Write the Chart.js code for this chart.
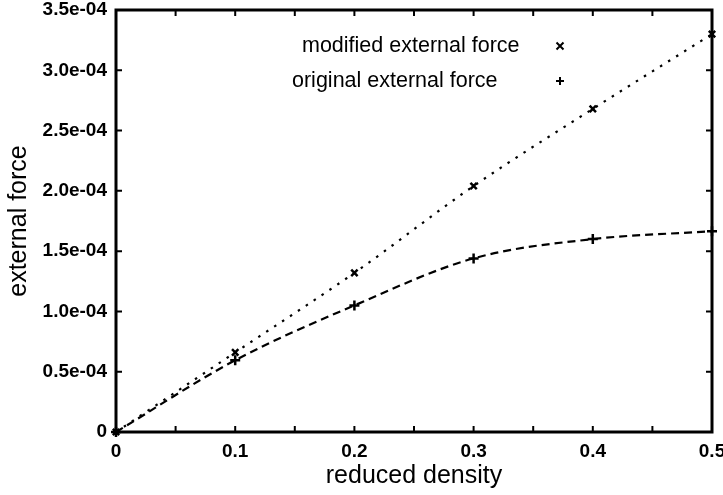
<!DOCTYPE html>
<html>
<head>
<meta charset="utf-8">
<script src="https://cdn.jsdelivr.net/npm/chart.js@4/dist/chart.umd.min.js"></script>
<style>
  html, body { margin: 0; padding: 0; background: #ffffff; }
  #wrap { width: 723px; height: 495px; }
</style>
</head>
<body>
<div id="wrap"><canvas id="c" width="723" height="495"></canvas></div>
<script>
// Reduced density values at which the force was evaluated
const densities = [0, 0.1, 0.2, 0.3, 0.4, 0.5];
// External force for each model
const modifiedForce = [0, 6.6e-5, 1.32e-4, 2.04e-4, 2.68e-4, 3.30e-4];
const originalForce = [0, 5.95e-5, 1.05e-4, 1.44e-4, 1.60e-4, 1.665e-4];
// Axis tick values and their labels
const xTickValues = [0, 0.1, 0.2, 0.3, 0.4, 0.5];
const xTickLabels = ['0', '0.1', '0.2', '0.3', '0.4', '0.5'];
const xMinorTicks = [0.05, 0.15, 0.25, 0.35, 0.45];
const yTickValues = [0, 0.5e-4, 1.0e-4, 1.5e-4, 2.0e-4, 2.5e-4, 3.0e-4, 3.5e-4];
const yTickLabels = ['0', '0.5e-04', '1.0e-04', '1.5e-04', '2.0e-04', '2.5e-04', '3.0e-04', '3.5e-04'];

const FONT = '"Liberation Sans", Arial, Helvetica, sans-serif';

function toPoints(xs, ys) {
  return xs.map((x, i) => ({ x: x, y: ys[i] }));
}

// Frame with inward ticks on all four sides, plus the key
const framePlugin = {
  id: 'frame',
  afterDraw(chart) {
    const ctx = chart.ctx;
    const a = chart.chartArea;
    const xs = chart.scales.x, ys = chart.scales.y;
    ctx.save();
    ctx.strokeStyle = '#000';
    ctx.lineWidth = 2;
    ctx.setLineDash([]);
    const tick = 6;
    ctx.beginPath();
    xTickValues.concat(xMinorTicks).forEach(v => {
      const px = xs.getPixelForValue(v);
      ctx.moveTo(px, a.bottom); ctx.lineTo(px, a.bottom - tick);
      ctx.moveTo(px, a.top); ctx.lineTo(px, a.top + tick);
    });
    yTickValues.forEach(v => {
      const py = ys.getPixelForValue(v);
      ctx.moveTo(a.left, py); ctx.lineTo(a.left + tick, py);
      ctx.moveTo(a.right, py); ctx.lineTo(a.right - tick, py);
    });
    ctx.stroke();
    ctx.lineWidth = 3;
    ctx.strokeRect(a.left, a.top, a.right - a.left, a.bottom - a.top);

    // key
    ctx.fillStyle = '#000';
    ctx.font = '21.5px ' + FONT;
    ctx.textBaseline = 'middle';
    ctx.textAlign = 'left';
    const entries = [
      { ds: chart.data.datasets[0], tx: 302, y: 46 },
      { ds: chart.data.datasets[1], tx: 292, y: 81 }
    ];
    entries.forEach(e => {
      ctx.fillText(e.ds.label, e.tx, e.y);
      const mx = 560, r = 3.5;
      ctx.lineWidth = 2;
      ctx.beginPath();
      if (e.ds.pointStyle === 'crossRot') {
        ctx.moveTo(mx - r, e.y - r); ctx.lineTo(mx + r, e.y + r);
        ctx.moveTo(mx - r, e.y + r); ctx.lineTo(mx + r, e.y - r);
      } else {
        ctx.moveTo(mx - r - 0.5, e.y); ctx.lineTo(mx + r + 0.5, e.y);
        ctx.moveTo(mx, e.y - r - 0.5); ctx.lineTo(mx, e.y + r + 0.5);
      }
      ctx.stroke();
    });
    ctx.restore();
  }
};

new Chart(document.getElementById('c'), {
  type: 'line',
  data: {
    datasets: [
      {
        label: 'modified external force',
        data: toPoints(densities, modifiedForce),
        borderColor: '#000',
        backgroundColor: '#000',
        borderWidth: 2.2,
        borderDash: [2.5, 7],
        cubicInterpolationMode: 'monotone',
        pointStyle: 'crossRot',
        pointRadius: 4.5,
        pointBorderWidth: 2.5,
        pointBorderColor: '#000',
        fill: false,
        clip: false
      },
      {
        label: 'original external force',
        data: toPoints(densities, originalForce),
        borderColor: '#000',
        backgroundColor: '#000',
        borderWidth: 2.2,
        borderDash: [8, 5],
        cubicInterpolationMode: 'monotone',
        pointStyle: 'cross',
        pointRadius: 5,
        pointBorderWidth: 2.5,
        pointBorderColor: '#000',
        fill: false,
        clip: false
      }
    ]
  },
  options: {
    responsive: false,
    animation: false,
    devicePixelRatio: 1,
    layout: { padding: { top: 10, right: 11, left: 0, bottom: 0 } },
    plugins: {
      legend: { display: false },
      tooltip: { enabled: false }
    },
    scales: {
      x: {
        type: 'linear',
        min: 0,
        max: 0.5,
        afterBuildTicks(scale) {
          scale.ticks = xTickValues.map(v => ({ value: v }));
        },
        afterFit(scale) {
          scale.height = 63;
          scale.paddingLeft = 0;
          scale.paddingRight = 0;
        },
        grid: { display: false, drawTicks: false },
        border: { display: false },
        ticks: {
          color: '#000',
          padding: 8,
          maxRotation: 0,
          autoSkip: false,
          font: { family: FONT, size: 19, weight: 'bold' },
          callback(value, index) { return xTickLabels[index]; }
        },
        title: {
          display: true,
          text: 'reduced density',
          color: '#000',
          font: { family: FONT, size: 25 },
          padding: { top: 0, bottom: 4 }
        }
      },
      y: {
        type: 'linear',
        min: 0,
        max: 3.5e-4,
        afterBuildTicks(scale) {
          scale.ticks = yTickValues.map(v => ({ value: v }));
        },
        afterFit(scale) {
          scale.width = 116;
          scale.paddingTop = 0;
          scale.paddingBottom = 0;
        },
        grid: { display: false, drawTicks: false },
        border: { display: false },
        ticks: {
          color: '#000',
          padding: 9,
          autoSkip: false,
          font: { family: FONT, size: 19, weight: 'bold' },
          callback(value, index) { return yTickLabels[index]; }
        },
        title: {
          display: true,
          text: 'external force',
          color: '#000',
          font: { family: FONT, size: 25 },
          padding: { top: 4, bottom: 0 }
        }
      }
    }
  },
  plugins: [framePlugin]
});
</script>
</body>
</html>
